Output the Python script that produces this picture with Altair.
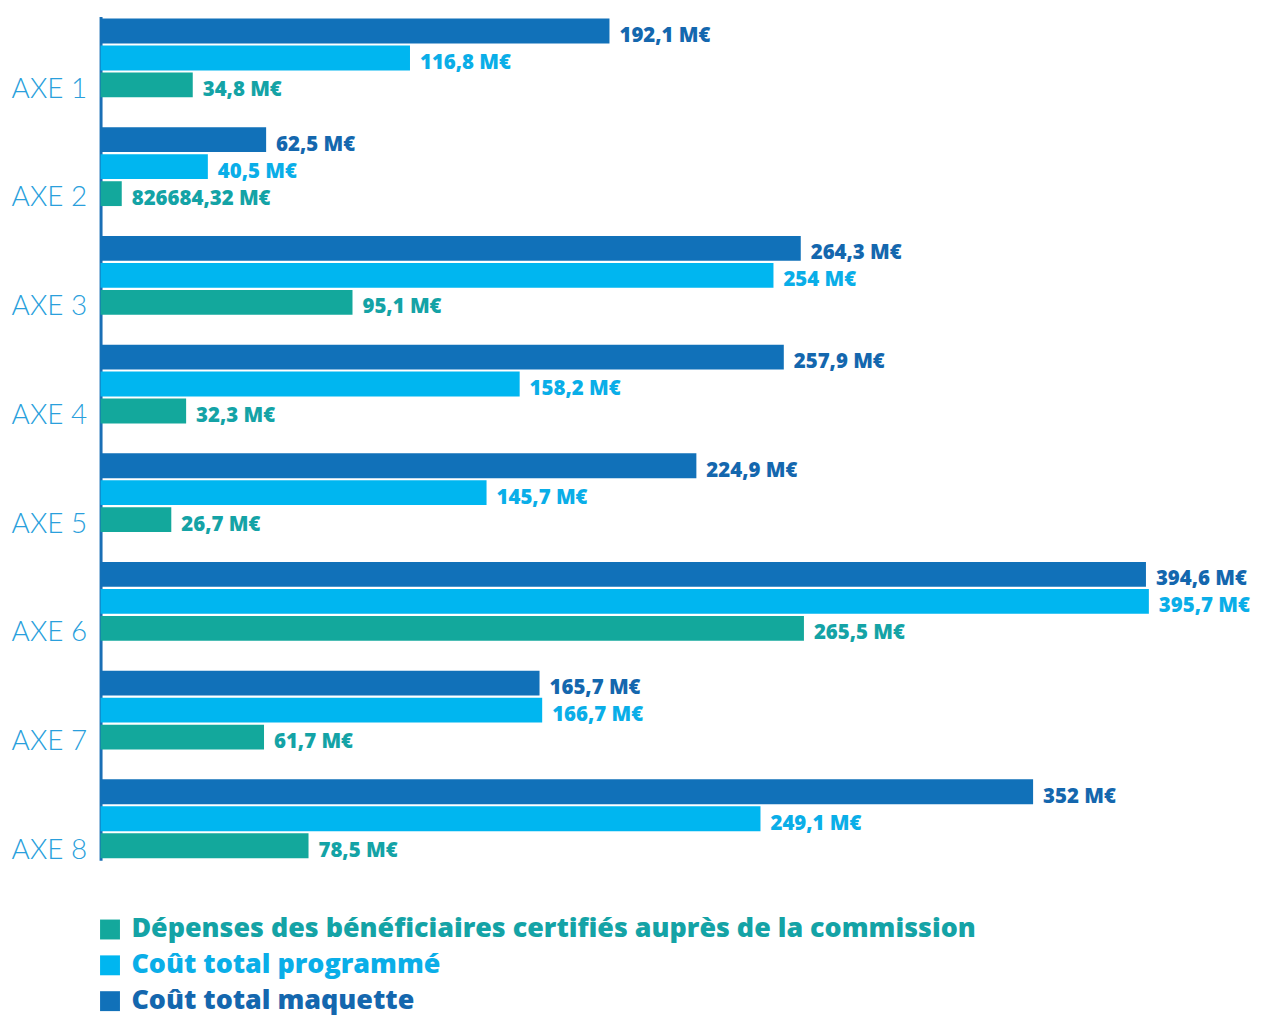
import altair as alt
import pandas as pd

axes = ["AXE 1", "AXE 2", "AXE 3", "AXE 4", "AXE 5", "AXE 6", "AXE 7", "AXE 8"]
series = ["Dépenses des bénéficiaires certifiés auprès de la commission",
          "Coût total programmé",
          "Coût total maquette"]

maquette = [192.1, 62.5, 264.3, 257.9, 224.9, 394.6, 165.7, 352.0]
programme = [116.8, 40.5, 254.0, 158.2, 145.7, 395.7, 166.7, 249.1]
depenses = [34.8, 8.0, 95.1, 32.3, 26.7, 265.5, 61.7, 78.5]

maquette_lbl = ["192,1 M€", "62,5 M€", "264,3 M€", "257,9 M€", "224,9 M€", "394,6 M€", "165,7 M€", "352 M€"]
programme_lbl = ["116,8 M€", "40,5 M€", "254 M€", "158,2 M€", "145,7 M€", "395,7 M€", "166,7 M€", "249,1 M€"]
depenses_lbl = ["34,8 M€", "826684,32 M€", "95,1 M€", "32,3 M€", "26,7 M€", "265,5 M€", "61,7 M€", "78,5 M€"]

bar_colors = ["#13a89c", "#00b6f0", "#1171b9"]
text_colors = ["#14a3a6", "#0aaee8", "#1467ae"]

rows = []
for i, a in enumerate(axes):
    rows.append({"axe": a, "serie": series[2], "val": maquette[i], "lbl": maquette_lbl[i]})
    rows.append({"axe": a, "serie": series[1], "val": programme[i], "lbl": programme_lbl[i]})
    rows.append({"axe": a, "serie": series[0], "val": depenses[i], "lbl": depenses_lbl[i]})
df = pd.DataFrame(rows)

yenc = alt.Y("axe:N", sort=axes, title=None,
             scale=alt.Scale(paddingInner=0.275, paddingOuter=0.02),
             axis=alt.Axis(domainColor="#1a6fb5", domainWidth=3, ticks=False, grid=False,
                           labelFont="Lato", labelFontWeight=300, labelFontSize=28,
                           labelColor="#2a9fdc", labelPadding=14, labelOffset=32))
yoff = alt.YOffset("serie:N", sort=[series[2], series[1], series[0]],
                   scale=alt.Scale(paddingInner=0.08, paddingOuter=0))
xenc = alt.X("val:Q", scale=alt.Scale(domain=[0, 432], nice=False), axis=None)

label_color_expr = ("datum.value == '" + series[0] + "' ? '" + text_colors[0] + "' : datum.value == '"
                    + series[1] + "' ? '" + text_colors[1] + "' : '" + text_colors[2] + "'")

bars = alt.Chart(df).mark_bar().encode(
    x=xenc, y=yenc, yOffset=yoff,
    color=alt.Color("serie:N", scale=alt.Scale(domain=series, range=bar_colors),
                    legend=alt.Legend(title=None, orient="none", legendX=-4, legendY=904,
                                      symbolType="square", symbolSize=400, symbolStrokeWidth=0,
                                      labelFont="Open Sans", labelFontWeight=800, labelFontSize=27,
                                      labelLimit=1200, rowPadding=8, labelOffset=8,
                                      labelColor=alt.expr(label_color_expr))),
)

texts = alt.Chart(df).mark_text(align="left", baseline="middle", dx=10, dy=5,
                                font="Open Sans", fontWeight=800, fontSize=20.5).encode(
    x=xenc, y=alt.Y("axe:N", sort=axes), yOffset=yoff, text="lbl:N",
    color=alt.Color("serie:N", scale=alt.Scale(domain=series, range=text_colors), legend=None),
)

chart = (bars + texts).resolve_scale(color="independent").properties(
    width=1150, height=848,
    autosize=alt.AutoSizeParams(type="none"),
    padding={"left": 93, "top": 6, "right": 8, "bottom": 160},
).configure_view(stroke=None)

chart.save("out.html", embed_options={"renderer": "svg", "actions": False})
